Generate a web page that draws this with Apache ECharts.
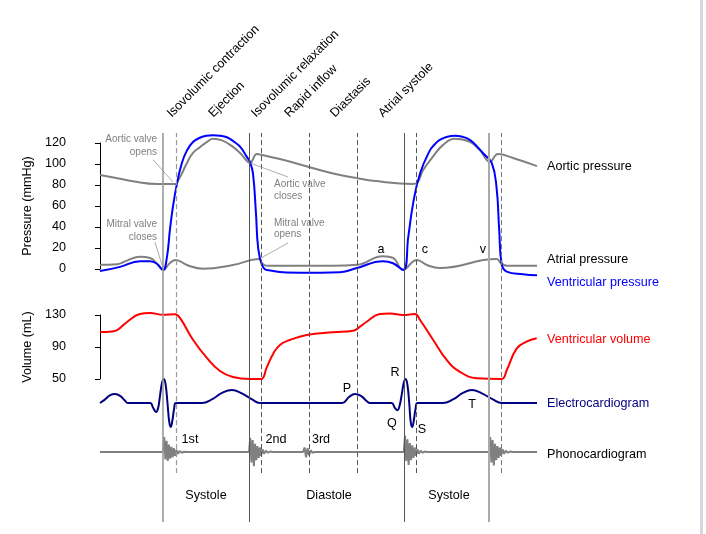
<!DOCTYPE html>
<html><head><meta charset="utf-8">
<script src="https://cdn.jsdelivr.net/npm/echarts@6/dist/echarts.min.js"></script>
<style>html,body{margin:0;padding:0;background:#fff}#c{width:706px;height:534px}</style>
</head><body><div id="c"></div>
<script>
// time in ms, one heart cycle = 800 ms
const T_MAX = 1457;
const aorticPressure = [[0,89.5],[57,86.5],[110,83.5],[190,81],[253,81],[260,84],[273,91],[290,101],[310,110.5],[333,116],[357,121],[377,124],[407,122.5],[440,117],[467,110.5],[493,102],[500,101],[523,109.5],[540,108.5],[610,104],[723,95],[800,89.5],[867,86],[910,84],[1043,81],[1057,82],[1077,94],[1110,107],[1143,118],[1183,124],[1233,121],[1267,113],[1300,102],[1327,109.5],[1377,105.7],[1457,98]];
const atrialPressure = [[0,4],[57,4.5],[90,8],[133,11.7],[167,10.5],[193,4],[210,-1],[233,5.7],[253,8.6],[290,3.8],[343,0.3],[443,3.8],[530,9.5],[540,5.5],[557,3],[777,3],[857,4],[943,12.2],[977,10.5],[1010,-0.5],[1057,8.6],[1090,3.8],[1133,1],[1322,9.5],[1337,5.5],[1357,3],[1457,3]];
const ventricularPressure = [[0,-2],[67,2],[133,7.5],[167,7.5],[190,5],[210,-1],[223,11],[233,37],[243,59],[257,82],[273,101],[290,113],[310,121],[333,125],[355,127],[377,127.5],[400,127],[423,125.5],[443,122],[467,116.5],[489,107],[500,102],[510,91],[520,53],[527,21],[540,4],[557,-1],[667,-3.5],[800,-3],[857,1],[943,7.5],[977,5.5],[1011,-1],[1028,31],[1044,62.5],[1067,91],[1100,113],[1117,119],[1133,123],[1158,126],[1183,127],[1208,126],[1233,123],[1256,117],[1278,110],[1306,101],[1322,78],[1331,37],[1339,5],[1356,-2.5],[1410,-5],[1457,-6]];
const ventricularVolume = [[0,108.7],[40,109.5],[57,111],[89,121],[133,131.2],[167,132.5],[210,130.3],[250,131],[267,126],[310,99],[357,76],[400,60],[443,52.5],[500,50],[537,50],[556,64.6],[578,82],[600,92.5],[633,98.8],[689,105],[777,108.4],[844,110.4],[867,115.4],[889,121.6],[933,131.2],[967,132],[1011,130],[1050,131.2],[1067,123.8],[1111,98.8],[1156,73.8],[1200,59],[1256,51],[1339,50],[1356,61],[1389,88],[1422,96.6],[1456,101]];
const ecg = [[0,0],[17,0.15],[33,0.32],[50,0.375],[67,0.3],[83,0.1],[93,0],[167,0],[177,-0.2],[187,-0.375],[194,-0.2],[200,0.3],[207,0.85],[213,1.0],[219,0.75],[225,0],[231,-0.8],[236,-1.0],[241,-0.75],[247,-0.25],[253,0],[340,0],[373,0.15],[407,0.42],[440,0.54],[473,0.4],[507,0.15],[533,0],[807,0],[830,0.25],[850,0.375],[870,0.3],[890,0.07],[900,0],[972,0],[983,-0.2],[992,-0.3],[999,-0.1],[1006,0.35],[1013,0.85],[1019,1.0],[1025,0.75],[1031,0],[1036,-0.8],[1041,-1.0],[1046,-0.75],[1052,-0.25],[1059,0],[1143,0],[1177,0.15],[1210,0.42],[1240,0.54],[1273,0.4],[1310,0.15],[1340,0],[1457,0]];
const phonocardiogram = [[0,0],[210,0],[214,1.0],[218,-0.5],[222,0.75],[226,-0.6],[230,0.5],[234,-0.45],[238,0.35],[242,-0.35],[246,0.25],[250,-0.25],[255,0.15],[260,-0.12],[266,0.07],[273,-0.05],[280,0.02],[290,0],[497,0],[501,0.95],[505,-0.7],[509,0.8],[513,-0.95],[517,0.55],[521,-0.55],[525,0.4],[529,-0.4],[533,0.3],[537,-0.25],[542,0.18],[547,-0.12],[553,0.08],[560,-0.05],[567,0.03],[577,0],[677,0],[682,0.3],[687,-0.35],[692,0.25],[697,-0.22],[702,0.12],[708,-0.05],[715,0],[1013,0],[1017,1.1],[1021,-0.6],[1025,0.85],[1029,-0.87],[1033,0.6],[1037,-0.55],[1041,0.45],[1045,-0.4],[1049,0.3],[1053,-0.25],[1058,0.18],[1063,-0.12],[1069,0.08],[1076,-0.05],[1083,0.03],[1090,0],[1297,0],[1301,1.0],[1305,-0.7],[1309,0.8],[1313,-0.9],[1317,0.55],[1321,-0.55],[1325,0.4],[1329,-0.4],[1333,0.3],[1337,-0.25],[1342,0.18],[1347,-0.12],[1353,0.08],[1360,-0.05],[1367,0.03],[1377,0],[1457,0]];
const pressureTicks = [0,20,40,60,80,100,120];
const volumeTicks = [50,90,130];
const solidEvents = [210, 497, 1013, 1297];
const dashedEvents = [253, 537, 697, 857, 1053, 1337];
const phaseNames = ['Isovolumic contraction','Ejection','Isovolumic relaxation','Rapid inflow','Diastasis','Atrial systole'];
const phaseLabelTimes = [246, 385, 527, 638, 791, 951];
const valveLeaders = [[[177,104],[243,83]],[[183,25.7],[210,1]],[[500,101],[627,87.6]],[[537,10.5],[627,24.8]]];

// styles / layout
const FONT = '"Liberation Sans", Arial, sans-serif';
const FS = 12.6;
const TY = 1.5; // visual-centre correction for middle-aligned text
const solidStyles = [{color:'#9a9a9a',width:1.6},{color:'#555',width:1},{color:'#555',width:1},{color:'#aaaaaa',width:2}];
const dashedStyles = [{color:'#999',width:1.2},{color:'#555',width:1},{color:'#555',width:1},{color:'#555',width:1},{color:'#555',width:1},{color:'#777',width:1}];
const DASH_BOTTOM = 0.126;
const GL = 100, GW = 437;

const chart = echarts.init(document.getElementById('c'), null, {renderer:'canvas'});

function xAx(i){ return {gridIndex:i, type:'value', min:0, max:T_MAX, show:false}; }
function hiddenY(i,min,max){ return {gridIndex:i, type:'value', min:min, max:max, show:false}; }
const labelStyle = {color:'#000', fontSize:FS, fontFamily:FONT, margin:8, padding:[3,0,0,0]};
const visY = (extra) => Object.assign({
  type:'value', offset:26, splitLine:{show:false},
  axisLine:{show:true, lineStyle:{color:'#000', width:1}},
  axisTick:{show:true, length:5, lineStyle:{color:'#000', width:1}},
  axisLabel:Object.assign({}, labelStyle),
  nameLocation:'middle', nameGap:40, nameRotate:90,
  nameTextStyle:{color:'#000', fontSize:FS, fontFamily:FONT}
}, extra);

const lineBase = {type:'line', symbol:'none', showSymbol:false, clip:false, smooth:0.45, z:3, silent:true};

const vlines = [];
solidEvents.forEach((t,i)=>vlines.push([{coord:[t,0], lineStyle:Object.assign({type:'solid'},solidStyles[i])},{coord:[t,1]}]));
dashedEvents.forEach((t,i)=>vlines.push([{coord:[t,DASH_BOTTOM], lineStyle:Object.assign({type:[5,3]},dashedStyles[i])},{coord:[t,1]}]));

const option = {
  animation:false,
  backgroundColor:'#fff',
  grid:[
    {left:GL, width:GW, top:143, height:126},
    {left:GL, width:GW, top:315, height:64},
    {left:GL, width:GW, top:379, height:48},
    {left:GL, width:GW, top:437, height:30},
    {left:GL, width:GW, top:133, height:389}
  ],
  xAxis:[xAx(0),xAx(1),xAx(2),xAx(3),xAx(4)],
  yAxis:[
    visY({gridIndex:0, min:0, max:120, interval:20, name:'Pressure (mmHg)'}),
    visY({gridIndex:1, min:50, max:130, name:'Volume (mL)',
      axisLabel:Object.assign({customValues:volumeTicks}, labelStyle),
      axisTick:{show:true, length:5, lineStyle:{color:'#000', width:1}, customValues:volumeTicks}}),
    hiddenY(2,-1,1),
    hiddenY(3,-1,1),
    hiddenY(4,0,1)
  ],
  series:[
    {type:'line', xAxisIndex:4, yAxisIndex:4, data:[], symbol:'none', z:1, silent:true,
     markLine:{silent:true, symbol:'none', animation:false, label:{show:false}, data:vlines}},
    Object.assign({}, lineBase, {name:'Aortic pressure', xAxisIndex:0, yAxisIndex:0, data:aorticPressure,
      lineStyle:{color:'#808080', width:2},
      markLine:{silent:true, symbol:'none', animation:false, label:{show:false},
        lineStyle:{color:'#8a8a8a', width:0.7, type:'solid'},
        data:valveLeaders.map(p=>[{coord:p[0]},{coord:p[1]}])}}),
    Object.assign({}, lineBase, {name:'Atrial pressure', xAxisIndex:0, yAxisIndex:0, data:atrialPressure, lineStyle:{color:'#808080', width:2}}),
    Object.assign({}, lineBase, {name:'Ventricular pressure', xAxisIndex:0, yAxisIndex:0, data:ventricularPressure, lineStyle:{color:'#0000ff', width:2}, z:4}),
    Object.assign({}, lineBase, {name:'Ventricular volume', xAxisIndex:1, yAxisIndex:1, data:ventricularVolume, lineStyle:{color:'#ff0000', width:2}}),
    Object.assign({}, lineBase, {name:'Electrocardiogram', xAxisIndex:2, yAxisIndex:2, data:ecg, lineStyle:{color:'#000080', width:2}}),
    Object.assign({}, lineBase, {name:'Phonocardiogram', xAxisIndex:3, yAxisIndex:3, data:phonocardiogram, smooth:false, lineStyle:{color:'#808080', width:2}})
  ]
};
chart.setOption(option);

// text annotations
const notes = [
  ['Aortic valve',157,138,'right','#808080',10],
  ['opens',157,151,'right','#808080',10],
  ['Mitral valve',157,223,'right','#808080',10],
  ['closes',157,236,'right','#808080',10],
  ['Aortic valve',274,183,'left','#808080',10],
  ['closes',274,195,'left','#808080',10],
  ['Mitral valve',274,222,'left','#808080',10],
  ['opens',274,233,'left','#808080',10],
  ['a',381,248,'center','#000',FS],['c',425,248,'center','#000',FS],['v',483,248,'center','#000',FS],
  ['P',347,387,'center','#000',FS],['R',395,371,'center','#000',FS],['Q',392,422,'center','#000',FS],
  ['S',422,428,'center','#000',FS],['T',472,403,'center','#000',FS],
  ['1st',190,438,'center','#000',FS],['2nd',276,438,'center','#000',FS],['3rd',321,438,'center','#000',FS],
  ['Systole',206,494,'center','#000',FS],['Diastole',329,494,'center','#000',FS],['Systole',449,494,'center','#000',FS],
  ['Aortic pressure',547,165,'left','#000',FS],
  ['Atrial pressure',547,258,'left','#000',FS],
  ['Ventricular pressure',547,281,'left','#0000ff',FS],
  ['Ventricular volume',547,338,'left','#ff0000',FS],
  ['Electrocardiogram',547,402,'left','#000080',FS],
  ['Phonocardiogram',547,453,'left','#000',FS]
];
const graphics = notes.map(n=>({type:'text', x:n[1], y:n[2]+TY, silent:true, z:10,
  style:{text:n[0], font:n[5]+'px '+FONT, fill:n[4], textAlign:n[3], align:n[3], textVerticalAlign:'middle', verticalAlign:'middle'}}));
phaseNames.forEach((name,i)=>{
  const px = chart.convertToPixel({xAxisIndex:0}, phaseLabelTimes[i]);
  graphics.push({type:'text', x:px, y:120, rotation:Math.PI/4, silent:true, z:10,
    style:{text:name, font:FS+'px '+FONT, fill:'#000', textAlign:'left', align:'left', textVerticalAlign:'bottom', verticalAlign:'bottom'}});
});
graphics.push({type:'rect', shape:{x:700, y:0, width:3, height:534}, style:{fill:'#d6d6de'}, silent:true});
chart.setOption({graphic:graphics});
</script></body></html>
